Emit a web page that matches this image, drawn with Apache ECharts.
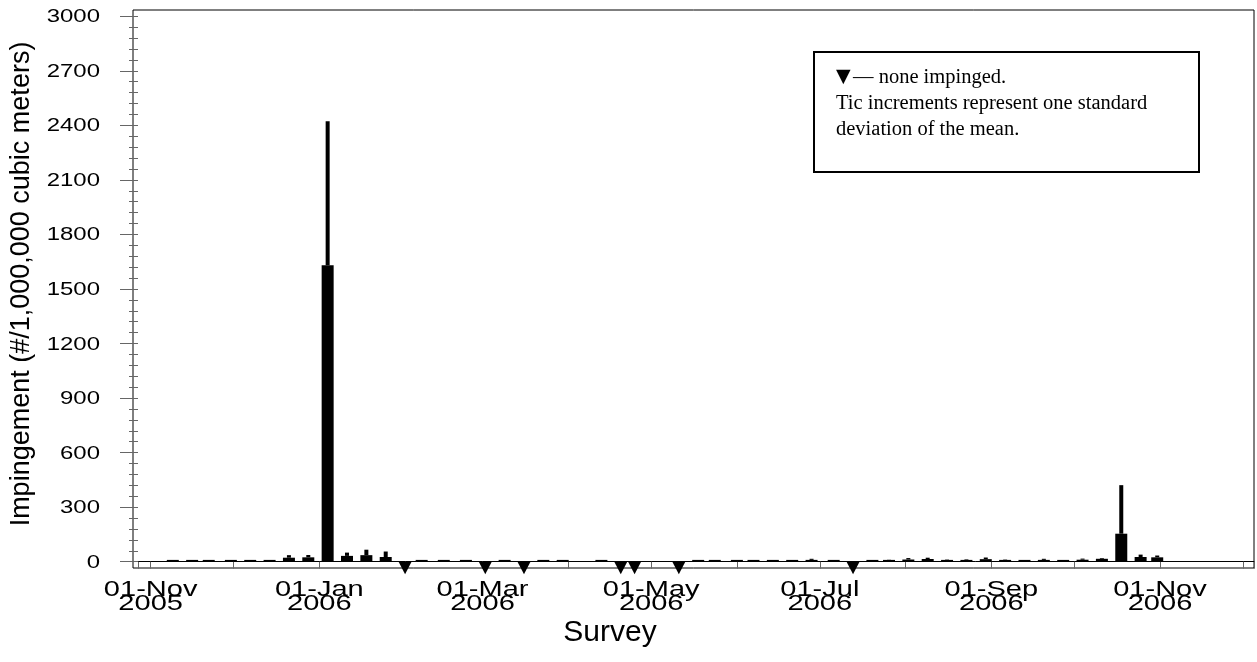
<!DOCTYPE html>
<html><head><meta charset="utf-8">
<script src="https://cdn.jsdelivr.net/npm/echarts@6/dist/echarts.min.js"></script>
<style>html,body{margin:0;padding:0;background:#fff}#c{width:1257px;height:662px}</style>
</head><body><div id="c"></div>
<script>
// ---- data ----
const surveyDates = ['2005-11-09','2005-11-16','2005-11-22','2005-11-30','2005-12-07','2005-12-14','2005-12-21','2005-12-28',
  '2006-01-04','2006-01-11','2006-01-18','2006-01-25','2006-02-01','2006-02-07','2006-02-15','2006-02-23',
  '2006-03-02','2006-03-09','2006-03-16','2006-03-23','2006-03-30','2006-04-13','2006-04-20','2006-04-25',
  '2006-05-11','2006-05-18','2006-05-24','2006-06-01','2006-06-07','2006-06-14','2006-06-21','2006-06-28',
  '2006-07-06','2006-07-13','2006-07-20','2006-07-26','2006-08-02','2006-08-09','2006-08-16','2006-08-23',
  '2006-08-30','2006-09-06','2006-09-13','2006-09-20','2006-09-27','2006-10-04','2006-10-11','2006-10-18',
  '2006-10-25','2006-10-31'];
const meanValues = [6,6,5,5,6,5,22,24,
  1630,32,36,26,0,5,5,4,
  0,6,0,6,5,5,0,0,
  0,6,6,4,5,6,6,10,
  4,0,5,7,12,15,8,9,
  14,8,6,10,6,11,16,154,
  26,24];
const sdValues = [3,3,3,3,3,3,14,13,
  793,18,30,30,0,3,3,2,
  0,3,0,3,3,3,0,0,
  0,3,3,2,3,3,3,6,
  2,0,3,4,8,7,4,4,
  9,4,3,6,3,6,4,267,
  13,10];
const xTickDates = ['2005-11-01','2006-01-01','2006-03-01','2006-05-01','2006-07-01','2006-09-01','2006-11-01'];
const xTickLabels = ['01-Nov\n2005','01-Jan\n2006','01-Mar\n2006','01-May\n2006','01-Jul\n2006','01-Sep\n2006','01-Nov\n2006'];
const yTickValues = [0,300,600,900,1200,1500,1800,2100,2400,2700,3000];
const xRange = ['2005-10-27T10:00:00Z','2006-12-05T00:00:00Z'];

const ts = s => Date.parse(s.length === 10 ? s + 'T00:00:00Z' : s);
const xMin = ts(xRange[0]), xMax = ts(xRange[1]);

const chart = echarts.init(document.getElementById('c'), null, {renderer: 'canvas'});
const SANS = '"Liberation Sans", Arial, sans-serif';
const SERIF = '"Liberation Serif", "Times New Roman", serif';

const legendStyle = (txt) => ({text: txt, fontFamily: SERIF, fontSize: 20.5, fill: '#000',
  verticalAlign: 'middle', textVerticalAlign: 'middle'});

const option = {
  useUTC: true,
  animation: false,
  backgroundColor: '#fff',
  grid: {left: 133, right: 3, top: 16.3, bottom: 100.3, containLabel: false},
  xAxis: {
    type: 'time', min: xMin, max: xMax, offset: 6.6,
    splitNumber: 13, minInterval: 28 * 86400000, maxInterval: 31 * 86400000,
    axisLine: {show: true, lineStyle: {color: '#000', width: 1}},
    axisTick: {show: true, length: 7, lineStyle: {color: '#666', width: 1}},
    axisLabel: {show: false},
    splitLine: {show: false},
    name: 'Survey', nameLocation: 'middle', nameGap: 49,
    nameTextStyle: {fontFamily: SANS, fontSize: 30, color: '#000', padding: [0, 172, 0, 0]}
  },
  yAxis: {
    type: 'value', min: 0, max: 3000, interval: 300,
    axisLine: {show: false},
    axisTick: {show: true, length: 18, lineStyle: {color: '#666', width: 1}},
    minorTick: {show: true, splitNumber: 5, length: 9, lineStyle: {color: '#666', width: 1}},
    axisLabel: {show: false},
    splitLine: {show: false},
    name: 'Impingement (#/1,000,000 cubic meters)', nameLocation: 'middle', nameGap: 103,
    nameTextStyle: {fontFamily: SANS, fontSize: 27, color: '#000', padding: [0, 0, 0, 10]}
  },
  graphic: [
    {type: 'rect', z: 0, silent: true, shape: {x: 133, y: 10, width: 1121, height: 558},
      style: {fill: 'none', stroke: '#000', lineWidth: 1}},
    {type: 'rect', z: 10, shape: {x: 814, y: 52, width: 385, height: 120},
      style: {fill: '#fff', stroke: '#000', lineWidth: 2}},
    {type: 'text', z: 11, x: 836, y: 77, style: {text: '\u25BC', fontFamily: '"DejaVu Sans", sans-serif', fontSize: 19, fill: '#000', verticalAlign: 'middle', textVerticalAlign: 'middle'}},
    {type: 'text', z: 11, x: 853, y: 78, style: legendStyle('\u2014 none impinged.')},
    {type: 'text', z: 11, x: 836, y: 104, style: legendStyle('Tic increments represent one standard')},
    {type: 'text', z: 11, x: 836, y: 130, style: legendStyle('deviation of the mean.')}
  ],
  series: [
    {
      type: 'custom', name: 'Impingement', clip: false, z: 5,
      encode: {x: 0, y: 1},
      data: surveyDates.map((d, i) => [ts(d), meanValues[i], sdValues[i]]),
      renderItem: function (params, api) {
        const t = api.value(0), m = api.value(1), sd = api.value(2);
        const base = api.coord([t, 0]);
        if (m === 0) {
          return {type: 'polygon', shape: {points: [[base[0] - 6.5, base[1]], [base[0] + 6.5, base[1]], [base[0], base[1] + 12.5]]},
            style: {fill: '#000'}};
        }
        const top = api.coord([t, m]);
        const etop = api.coord([t, m + sd]);
        const h = Math.max(base[1] - top[1], 1.8);
        return {type: 'group', children: [
          {type: 'rect', shape: {x: base[0] - 6, y: base[1] - h, width: 12, height: h}, style: {fill: '#000'}},
          {type: 'rect', shape: {x: base[0] - 2, y: etop[1], width: 4, height: Math.max(base[1] - h - etop[1], 0)}, style: {fill: '#000'}}
        ]};
      }
    },
    {
      type: 'custom', name: 'xTickLabels', clip: false, silent: true, z: 6,
      encode: {x: 0, y: 1},
      data: xTickDates.map(d => [ts(d), 0]),
      renderItem: function (params, api) {
        const p = api.coord([api.value(0), 0]);
        return {type: 'text', x: p[0], y: p[1] + 21, scaleX: 1.32, scaleY: 1,
          style: {text: xTickLabels[params.dataIndex], fontFamily: SANS, fontSize: 22, lineHeight: 14,
            align: 'center', verticalAlign: 'top', fill: '#000'}};
      }
    },
    {
      type: 'custom', name: 'yTickLabels', clip: false, silent: true, z: 6,
      encode: {x: 0, y: 1},
      data: yTickValues.map(v => [xMin, v]),
      renderItem: function (params, api) {
        const p = api.coord([api.value(0), api.value(1)]);
        return {type: 'text', x: p[0] - 38, y: p[1] + 1, scaleX: 1.33, scaleY: 1,
          style: {text: String(yTickValues[params.dataIndex]), fontFamily: SANS, fontSize: 18,
            align: 'right', verticalAlign: 'middle', fill: '#000'}};
      }
    }
  ]
};
chart.setOption(option);
</script>
</body></html>
